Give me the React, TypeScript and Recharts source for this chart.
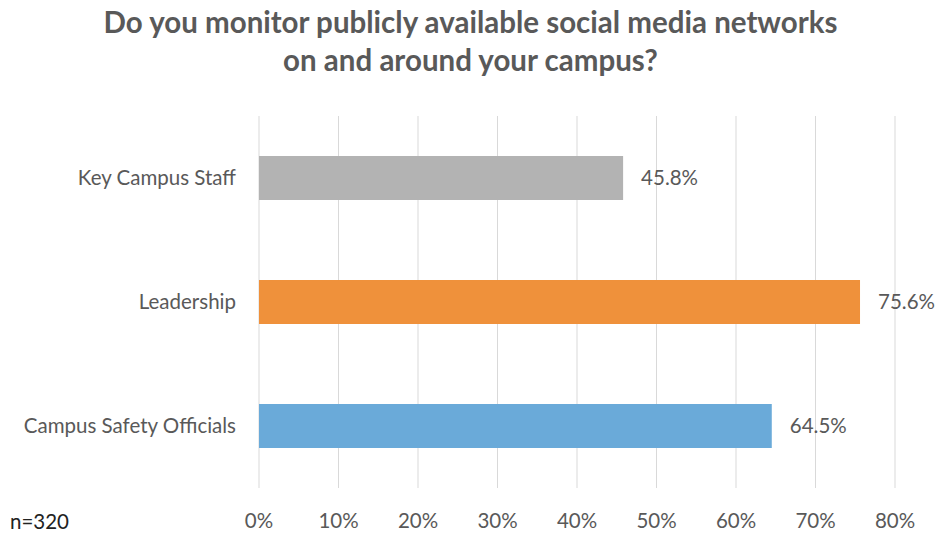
import { BarChart, Bar, XAxis, YAxis, CartesianGrid, Cell, LabelList } from 'recharts'

const categories = ['Key Campus Staff', 'Leadership', 'Campus Safety Officials']
const values = [45.8, 75.6, 64.5]
const barColors = ['#b3b3b3', '#ef913b', '#6aaad9']
const xTicks = [0, 10, 20, 30, 40, 50, 60, 70, 80]

const data = categories.map((name, i) => ({ name, value: values[i] }))

const textColor = '#595959'
const font = 'Lato, "Open Sans", sans-serif'

export default function App() {
  return (
    <div style={{ position: 'relative', width: 941, height: 535, background: '#fff', fontFamily: font }}>
      <style>{'body{margin:0}'}</style>
      <div
        style={{
          position: 'absolute',
          top: 3,
          left: 0,
          width: 941,
          textAlign: 'center',
          color: textColor,
          fontWeight: 700,
          fontSize: 29.5,
          lineHeight: '38px',
        }}
      >
        Do you monitor publicly available social media networks
        <br />
        on and around your campus?
      </div>
      <BarChart
        width={941}
        height={535}
        data={data}
        layout="vertical"
        margin={{ top: 116, right: 46, bottom: 7, left: 0 }}
        barSize={44}
      >
        <CartesianGrid horizontal={false} stroke="#d9d9d9" />
        <XAxis
          type="number"
          domain={[0, 80]}
          ticks={xTicks}
          tickFormatter={(v) => `${v}%`}
          axisLine={false}
          tickLine={false}
          tickSize={0}
          tickMargin={25}
          height={40}
          tick={{ fill: textColor, fontSize: 20.5, fontFamily: font }}
        />
        <YAxis
          type="category"
          dataKey="name"
          width={259}
          axisLine={false}
          tickLine={false}
          tickSize={0}
          tickMargin={23}
          tick={{ fill: textColor, fontSize: 20.5, fontFamily: font }}
        />
        <Bar dataKey="value" isAnimationActive={false}>
          {data.map((_, i) => (
            <Cell key={i} fill={barColors[i]} />
          ))}
          <LabelList
            dataKey="value"
            position="right"
            offset={18}
            formatter={(v: number) => `${v.toFixed(1)}%`}
            style={{ fill: textColor, fontSize: 20.5, fontFamily: font }}
          />
        </Bar>
      </BarChart>
      <div style={{ position: 'absolute', left: 10, top: 509, color: '#222', fontSize: 20.5 }}>n=320</div>
    </div>
  )
}
